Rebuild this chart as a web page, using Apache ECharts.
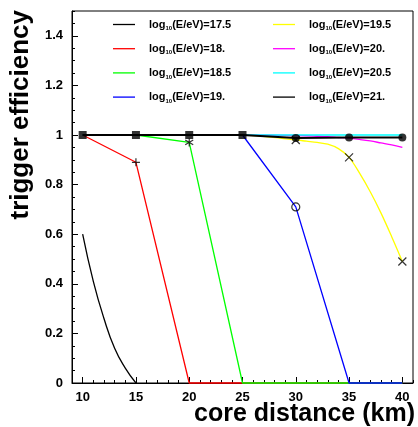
<!DOCTYPE html>
<html>
<head>
<meta charset="utf-8">
<script src="https://cdn.jsdelivr.net/npm/echarts@6/dist/echarts.min.js"></script>
<style>
html,body{margin:0;padding:0;background:#fff;}
#c{width:418px;height:427px;}
</style>
</head>
<body>
<div id="c"></div>
<script>
// ---- data ----
const seriesNames = ['17.5', '18.', '18.5', '19.', '19.5', '20.', '20.5', '21.'];
const seriesColors = ['#000000', '#ff0000', '#00ff00', '#0000ff', '#ffff00', '#ff00ff', '#00ffff', '#000000'];

const xMain = [10, 15, 20, 25, 30, 35, 40];
const e18 = [1, 0.89, 0, 0, 0, 0, 0];
const e185 = [1, 1, 0.97, 0, 0, 0, 0];
const e19 = [1, 1, 1, 1, 0.71, 0, 0];
const e205 = [1, 1, 1, 1, 1, 1, 1];
const e21 = [1, 1, 1, 1, 0.988, 0.99, 0.99];

const x175 = [10, 11, 12, 13, 14, 15];
const e175 = [0.6, 0.41, 0.26, 0.14, 0.06, 0];

const xFine = [10, 15, 20, 25, 30, 31, 32, 33, 34, 35, 36, 37, 38, 39, 40];
const e195 = [1, 1, 1, 1, 0.98, 0.975, 0.97, 0.963, 0.945, 0.91, 0.845, 0.77, 0.685, 0.59, 0.49];
const e20 = [1, 1, 1, 1, 0.998, 0.997, 0.995, 0.993, 0.99, 0.987, 0.982, 0.976, 0.968, 0.96, 0.95];

// markers
const plusPts = [[15, 0.89]];
const starPts = [[20, 0.97]];
const openCirclePts = [[30, 0.71]];
const crossPts = [[30, 0.98], [35, 0.91], [40, 0.49]];
const squarePts = [[10, 1], [15, 1], [20, 1], [25, 1]];
const dotPts = [[30, 0.988], [35, 0.99], [40, 0.99]];

// ticks
const xMajorTicks = [10, 15, 20, 25, 30, 35, 40];
const yMajorTicks = [0, 0.2, 0.4, 0.6, 0.8, 1, 1.2, 1.4];

const xTitle = 'core distance (km)';
const yTitle = 'trigger efficiency';

// ---- chart ----
const pair = (xs, ys) => xs.map((x, i) => [x, ys[i]]);
const FONT = '"Liberation Sans", Arial, sans-serif';
const gridRect = {left: 72, right: 5, top: 11, bottom: 44};

const lineData = [
  pair(x175, e175), pair(xMain, e18), pair(xMain, e185), pair(xMain, e19),
  pair(xFine, e195), pair(xFine, e20), pair(xMain, e205), pair(xMain, e21)
];
const smoothFlags = [true, false, false, false, 0.35, 0.35, false, false];

const series = seriesNames.map((n, i) => ({
  name: n, type: 'line', xAxisIndex: 0, yAxisIndex: 0,
  data: lineData[i], symbol: 'none', smooth: smoothFlags[i],
  clip: false,
  lineStyle: {color: seriesColors[i], width: i === 7 ? 2.2 : 1.3},
  itemStyle: {color: seriesColors[i]},
  animation: false
}));

const mk = (data, symbol, size, filled) => ({
  type: 'scatter', xAxisIndex: 0, yAxisIndex: 0, data, symbol, symbolSize: size,
  itemStyle: filled ? {color: '#000'} : {color: 'rgba(0,0,0,0)', borderColor: '#000', borderWidth: 1.2},
  silent: true, animation: false, z: 5
});
series.push(mk(plusPts, 'path://M0,-1L0,1M-1,0L1,0', 8, false));
series.push(mk(starPts, 'path://M0,-1L0,1M-0.8,-0.6L0.8,0.6M-0.8,0.6L0.8,-0.6', 8, false));
series.push(mk(openCirclePts, 'circle', 8, false));
series.push(mk(crossPts, 'path://M-1,-1L1,1M-1,1L1,-1', 8, false));
series.push(mk(squarePts, 'rect', 8, true));
series.push(mk(dotPts, 'circle', 8, true));

const legendFormatter = name => '{a|log}{s|10}{a|(E/eV)=' + name + '}';
const legendRich = {
  a: {fontFamily: FONT, fontWeight: 'bold', fontSize: 11, color: '#000', lineHeight: 14, verticalAlign: 'middle'},
  s: {fontFamily: FONT, fontWeight: 'bold', fontSize: 6, color: '#000', lineHeight: 8, verticalAlign: 'bottom'}
};
const mkLegend = (names, left) => ({
  data: names, left: left, top: 19, orient: 'vertical',
  icon: 'rect', itemWidth: 22, itemHeight: 1.3, itemGap: 11.7, padding: 0,
  formatter: legendFormatter,
  textStyle: {rich: legendRich, padding: [0, 0, 0, 9]},
  selectedMode: false
});

const labelStyle = {fontFamily: FONT, fontWeight: 'bold', fontSize: 13, color: '#000'};

const option = {
  animation: false,
  backgroundColor: '#fff',
  grid: [
    Object.assign({show: true, borderColor: '#000', borderWidth: 1, backgroundColor: 'transparent'}, gridRect),
    Object.assign({show: false}, gridRect)
  ],
  legend: [mkLegend(seriesNames.slice(0, 4), 113), mkLegend(seriesNames.slice(4), 273)],
  xAxis: [
    {type: 'value', gridIndex: 0, min: 9, max: 41, splitLine: {show: false},
     axisLine: {show: true, lineStyle: {color: '#000', width: 1}},
     axisTick: {show: true, inside: true, length: 6, customValues: xMajorTicks, lineStyle: {color: '#000'}},
     axisLabel: {show: true, customValues: xMajorTicks, margin: 8, ...labelStyle}},
    {type: 'value', gridIndex: 1, min: 9, max: 41, interval: 1, splitLine: {show: false},
     axisLine: {show: false},
     axisTick: {show: true, inside: true, length: 3, lineStyle: {color: '#000'}},
     axisLabel: {show: false}}
  ],
  yAxis: [
    {type: 'value', gridIndex: 0, min: 0, max: 1.5, splitLine: {show: false},
     axisLine: {show: true, lineStyle: {color: '#000', width: 1}},
     axisTick: {show: true, inside: true, length: 6, customValues: yMajorTicks, lineStyle: {color: '#000'}},
     axisLabel: {show: true, customValues: yMajorTicks, margin: 9, ...labelStyle}},
    {type: 'value', gridIndex: 1, min: 0, max: 1.5, interval: 0.05, splitLine: {show: false},
     axisLine: {show: false},
     axisTick: {show: true, inside: true, length: 3, lineStyle: {color: '#000'}},
     axisLabel: {show: false}}
  ],
  graphic: [
    {type: 'text', right: 3, top: 402, z: 10,
     style: {text: xTitle, font: 'bold 25px ' + FONT, fill: '#000'}},
    {type: 'text', x: 21, y: 10, rotation: Math.PI / 2, z: 10,
     style: {text: yTitle, font: 'bold 26px ' + FONT, fill: '#000', align: 'right', verticalAlign: 'middle'}}
  ],
  series: series
};

const chart = echarts.init(document.getElementById('c'), null, {renderer: 'canvas'});
chart.setOption(option);
</script>
</body>
</html>
